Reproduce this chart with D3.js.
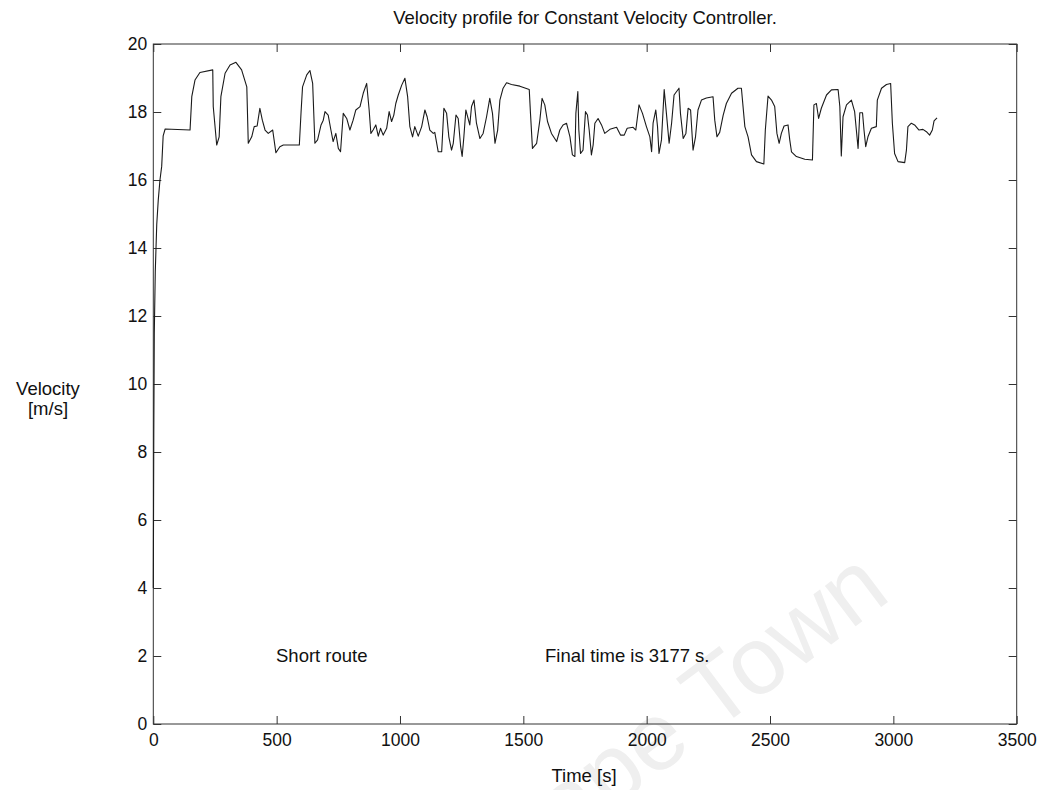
<!DOCTYPE html>
<html>
<head>
<meta charset="utf-8">
<script src="https://cdn.jsdelivr.net/npm/d3@7"></script>
<style>
  body { margin: 0; background: #fff; }
  text { font-family: "Liberation Sans", Arial, Helvetica, sans-serif; fill: #111; }
</style>
</head>
<body>
<svg id="chart" width="1040" height="790"></svg>
<script>
// Simulated speed trace of the vehicle under the constant velocity controller
const timeS = [
  0, 2, 4, 8, 14, 20, 27, 34, 40, 48,
  149, 156, 169, 189, 241, 243, 257, 267, 274, 291,
  311, 335, 358, 379, 385, 399, 409, 421, 432, 442,
  453, 466, 484, 497, 513, 527, 592, 599, 605, 622,
  635, 646, 655, 666, 680, 689, 696, 709, 720, 729,
  740, 750, 759, 770, 784, 797, 810, 821, 838, 851,
  865, 875, 882, 891, 902, 912, 921, 932, 946, 956,
  966, 975, 983, 993, 1007, 1020, 1031, 1040, 1051, 1060,
  1074, 1088, 1101, 1110, 1121, 1135, 1141, 1155, 1169, 1178,
  1189, 1198, 1209, 1216, 1227, 1236, 1246, 1252, 1259, 1267,
  1276, 1283, 1290, 1300, 1310, 1324, 1337, 1351, 1364, 1375,
  1385, 1396, 1405, 1418, 1432, 1452, 1486, 1524, 1529, 1537,
  1554, 1567, 1576, 1587, 1598, 1614, 1635, 1648, 1661, 1675,
  1689, 1699, 1709, 1713, 1721, 1725, 1732, 1742, 1752, 1760,
  1767, 1776, 1783, 1790, 1803, 1817, 1830, 1851, 1878, 1894,
  1909, 1921, 1945, 1956, 1969, 1983, 1999, 2013, 2020, 2026,
  2037, 2044, 2050, 2060, 2071, 2080, 2091, 2101, 2111, 2131,
  2137, 2148, 2159, 2168, 2178, 2188, 2198, 2208, 2222, 2242,
  2269, 2276, 2285, 2296, 2310, 2323, 2344, 2370, 2384, 2398,
  2411, 2425, 2445, 2475, 2481, 2492, 2506, 2519, 2528, 2537,
  2546, 2557, 2573, 2580, 2587, 2607, 2641, 2672, 2678, 2688,
  2697, 2708, 2729, 2749, 2776, 2783, 2789, 2796, 2810, 2830,
  2843, 2850, 2857, 2864, 2875, 2881, 2888, 2897, 2911, 2931,
  2935, 2952, 2972, 2989, 2996, 3005, 3019, 3046, 3053, 3059,
  3073, 3086, 3104, 3120, 3134, 3147, 3158, 3165, 3177
];
const velocity = [
  4.0, 8.5, 11.5, 13.3, 14.7, 15.4, 16.0, 16.4, 17.3, 17.5,
  17.47, 18.45, 18.94, 19.16, 19.24, 18.16, 17.03, 17.27, 18.45, 19.14,
  19.38, 19.46, 19.24, 18.74, 17.08, 17.27, 17.57, 17.59, 18.11, 17.76,
  17.47, 17.37, 17.47, 16.80, 16.98, 17.03, 17.03, 18.0, 18.74, 19.09,
  19.22, 18.84, 17.08, 17.18, 17.62, 17.76, 18.01, 17.91, 17.47, 17.13,
  17.37, 16.93, 16.83, 17.96, 17.81, 17.47, 17.76, 18.06, 18.16, 18.55,
  18.84, 18.06, 17.37, 17.47, 17.62, 17.29, 17.52, 17.32, 17.52, 18.01,
  17.72, 17.91, 18.25, 18.5, 18.79, 18.99, 18.45, 17.57, 17.27, 17.57,
  17.29, 17.57, 18.06, 17.86, 17.47, 17.37, 17.4, 16.83, 16.83, 18.11,
  17.96, 17.27, 16.88, 17.08, 17.91, 17.81, 16.98, 16.69, 17.27, 18.06,
  17.81, 17.62, 18.16, 18.35, 17.67, 17.22, 17.37, 17.86, 18.4, 17.96,
  17.08, 17.47, 18.35, 18.7, 18.86, 18.81, 18.76, 18.66, 17.96, 16.93,
  17.08, 17.76, 18.4, 18.21, 17.72, 17.37, 17.13, 17.47, 17.62, 17.67,
  17.27, 16.74, 16.69, 17.96, 18.6, 17.47, 16.78, 16.88, 18.01, 17.91,
  17.47, 16.74, 17.03, 17.67, 17.81, 17.62, 17.37, 17.49, 17.55, 17.32,
  17.32, 17.52, 17.55, 17.47, 18.21, 17.96, 17.57, 17.27, 16.83, 17.67,
  18.06, 17.57, 16.78, 17.18, 18.66, 17.96, 17.08, 17.67, 18.5, 18.7,
  17.96, 17.22, 17.37, 18.11, 18.06, 16.88, 17.27, 18.06, 18.35, 18.41,
  18.45, 17.76, 17.27, 17.4, 17.9, 18.25, 18.55, 18.7, 18.7, 17.57,
  17.27, 16.74, 16.54, 16.47, 17.47, 18.47, 18.35, 18.16, 17.37, 17.08,
  17.37, 17.59, 17.62, 17.18, 16.83, 16.69, 16.61, 16.59, 18.21, 18.25,
  17.81, 18.11, 18.5, 18.65, 18.66, 18.16, 16.71, 17.86, 18.21, 18.35,
  18.01, 17.47, 16.93, 17.98, 17.98, 17.47, 16.98, 17.27, 17.52, 17.57,
  18.35, 18.7, 18.81, 18.84, 17.67, 16.78, 16.54, 16.51, 16.88, 17.57,
  17.67, 17.62, 17.47, 17.49, 17.42, 17.32, 17.47, 17.74, 17.83
];
const xTicks = [0, 500, 1000, 1500, 2000, 2500, 3000, 3500];
const yTicks = [0, 2, 4, 6, 8, 10, 12, 14, 16, 18, 20];
const titleText = "Velocity profile for Constant Velocity Controller.";
const xLabel = "Time [s]";
const yLabelLines = ["Velocity", "[m/s]"];
const routeNote = "Short route";
const finalNote = "Final time is 3177 s.";

const svg = d3.select("#chart");
const frame = { left: 153.3, right: 1016.7, top: 44, bottom: 724 };
const x = d3.scaleLinear().domain([0, 3500]).range([frame.left, frame.right]);
const y = d3.scaleLinear().domain([0, 20]).range([frame.bottom, frame.top]);

// faint background stamp
svg.append("text")
  .attr("transform", "translate(893,598) rotate(-37)")
  .attr("text-anchor", "end")
  .style("font-size", "96px")
  .style("fill", "#efefef")
  .text("Cape Town");

const tickLen = 8;
const axisColor = "#333";

function styleAxis(g, showLabels) {
  g.select(".domain").remove();
  g.selectAll(".tick line").attr("stroke", axisColor).attr("stroke-width", 1);
  g.selectAll(".tick text")
    .style("font-size", "17.5px")
    .style("fill", "#111")
    .style("display", showLabels ? null : "none");
}

svg.append("g")
  .attr("transform", `translate(0,${frame.bottom})`)
  .call(d3.axisBottom(x).tickValues(xTicks).tickFormat(d3.format("d")).tickSizeInner(-tickLen).tickSizeOuter(0).tickPadding(10))
  .call(g => styleAxis(g, true));

svg.append("g")
  .attr("transform", `translate(0,${frame.top})`)
  .call(d3.axisTop(x).tickValues(xTicks).tickSizeInner(-tickLen).tickSizeOuter(0))
  .call(g => styleAxis(g, false));

svg.append("g")
  .attr("transform", `translate(${frame.left},0)`)
  .call(d3.axisLeft(y).tickValues(yTicks).tickFormat(d3.format("d")).tickSizeInner(-tickLen).tickSizeOuter(0).tickPadding(6))
  .call(g => styleAxis(g, true));

svg.append("g")
  .attr("transform", `translate(${frame.right},0)`)
  .call(d3.axisRight(y).tickValues(yTicks).tickSizeInner(-tickLen).tickSizeOuter(0))
  .call(g => styleAxis(g, false));

// plot frame
svg.append("rect")
  .attr("x", frame.left).attr("y", frame.top)
  .attr("width", frame.right - frame.left)
  .attr("height", frame.bottom - frame.top)
  .attr("fill", "none").attr("stroke", axisColor).attr("stroke-width", 1);

// velocity trace
const line = d3.line().x((d, i) => x(timeS[i])).y(d => y(d));
svg.append("path")
  .datum(velocity)
  .attr("d", line)
  .attr("fill", "none")
  .attr("stroke", "#1a1a1a")
  .attr("stroke-width", 1.1)
  .attr("stroke-linejoin", "round");

// annotations inside the axes
svg.append("text").attr("x", 276).attr("y", 662).style("font-size", "18.5px").text(routeNote);
svg.append("text").attr("x", 545).attr("y", 662).style("font-size", "18.5px").text(finalNote);

// title and axis labels
svg.append("text").attr("x", 585).attr("y", 24).attr("text-anchor", "middle").style("font-size", "18.5px").text(titleText);
svg.append("text").attr("x", 584).attr("y", 782).attr("text-anchor", "middle").style("font-size", "18.5px").text(xLabel);
svg.append("text").attr("x", 48).attr("y", 395).attr("text-anchor", "middle").style("font-size", "18.5px").text(yLabelLines[0]);
svg.append("text").attr("x", 48).attr("y", 415).attr("text-anchor", "middle").style("font-size", "18.5px").text(yLabelLines[1]);
</script>
</body>
</html>
